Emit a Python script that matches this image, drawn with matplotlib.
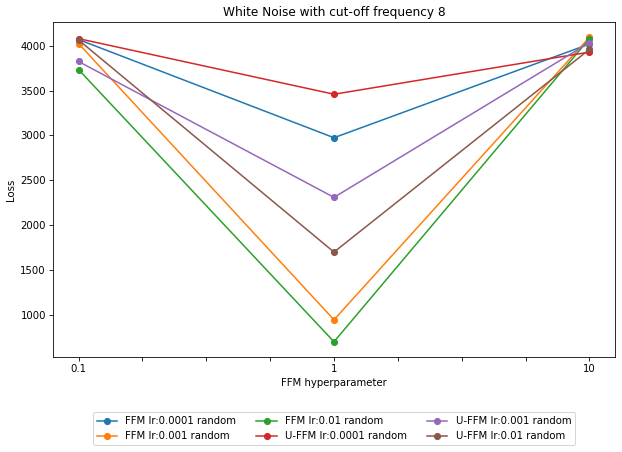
import numpy as np
from matplotlib import pyplot as plt

hyper = [0.1, 1, 10]
labels = ["FFM lr:0.0001 random", "FFM lr:0.001 random", "FFM lr:0.01 random",
          "U-FFM lr:0.0001 random", "U-FFM lr:0.001 random", "U-FFM lr:0.01 random"]
ffm_1e4 = [4070, 2975, 4020]
ffm_1e3 = [4025, 945, 4095]
ffm_1e2 = [3735, 700, 4080]
uffm_1e4 = [4080, 3460, 3930]
uffm_1e3 = [3825, 2310, 4035]
uffm_1e2 = [4065, 1700, 3960]
series = [ffm_1e4, ffm_1e3, ffm_1e2, uffm_1e4, uffm_1e3, uffm_1e2]

dpi = 73
fig = plt.figure(figsize=(622 / dpi, 452 / dpi), dpi=dpi)
ax = fig.add_axes([0.0852, 0.2102, 0.9035, 0.741])
for vals, lab in zip(series, labels):
    ax.plot(hyper, vals, marker='o', label=lab)

ax.set_xscale('log')
# ticks every quarter decade, only decades labelled
tick_pos = 10 ** np.arange(-1, 1.01, 0.25)
tick_lab = []
for t in tick_pos:
    if np.isclose(t, 0.1):
        tick_lab.append('0.1')
    elif np.isclose(t, 1):
        tick_lab.append('1')
    elif np.isclose(t, 10):
        tick_lab.append('10')
    else:
        tick_lab.append('')
ax.set_xticks(tick_pos)
ax.set_xticklabels(tick_lab)
ax.minorticks_off()

ax.set_xlabel('FFM hyperparameter')
ax.set_ylabel('Loss')
ax.set_title('White Noise with cut-off frequency 8')
ax.legend(loc='upper center', bbox_to_anchor=(0.5, -0.15), ncol=3)

fig.savefig('out.png', dpi=dpi)
